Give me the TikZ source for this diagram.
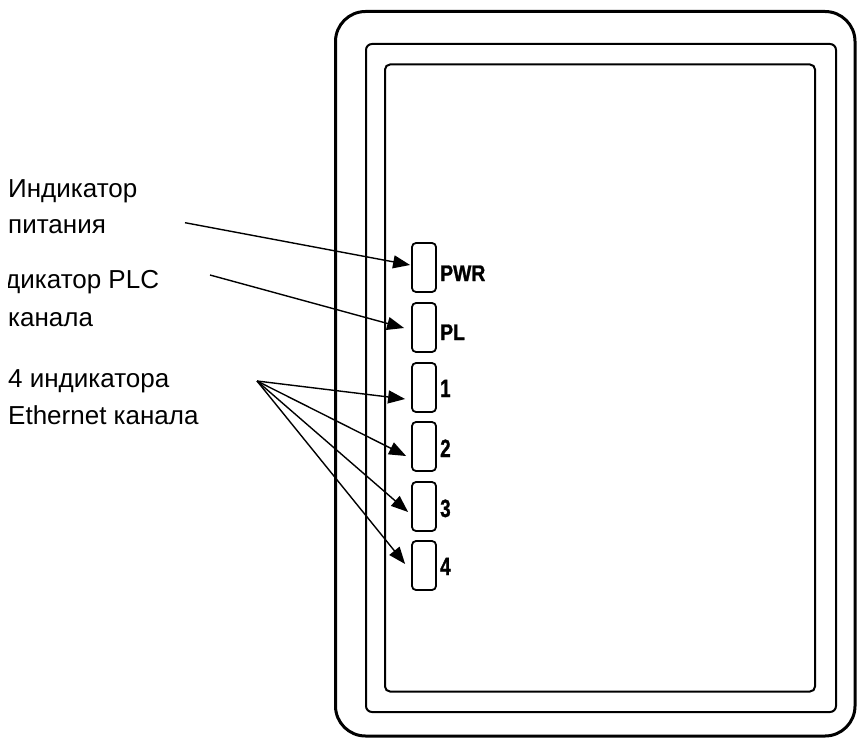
\documentclass[tikz,border=0pt]{standalone}
\usepackage{fontspec}
\usepackage{graphicx}
\setmainfont{Liberation Sans}
\newfontfamily\ledfont[BoldFeatures={FakeBold=1.3}]{Liberation Sans}
\usetikzlibrary{arrows.meta}
\newcommand{\condtext}[2]{\scalebox{#1}[1]{#2}}
\tikzset{
  ledbox/.style={draw, line width=1.8pt, rounded corners=4pt, minimum width=24pt, minimum height=49pt, inner sep=0pt},
  ledlab/.style={anchor=base west, inner sep=0pt, font=\fontsize{22.5}{22.5}\selectfont\ledfont\bfseries},
  numlab/.style={anchor=base west, inner sep=0pt, font=\fontsize{25}{25}\selectfont\ledfont\bfseries},
  desc/.style={anchor=base west, inner sep=0pt, font=\fontsize{26}{26}\selectfont},
  arr/.style={line width=1.4pt, -{Triangle[length=17pt,width=13pt]}},
}
\begin{document}
\begin{tikzpicture}[x=1pt,y=-1pt]
\useasboundingbox (0,0) rectangle (858,738);
% housing
\draw[line width=3pt, rounded corners=30pt] (335.5,11.5) rectangle (855,736);
\draw[line width=2pt, rounded corners=6pt] (366,44) rectangle (836,712);
\draw[line width=2pt, rounded corners=5pt] (385,64.5) rectangle (815,691.5);
% LEDs
\node[ledbox] (lpwr) at (424,267.5) {};
\node[ledbox] (lpl) at (424,327.5) {};
\node[ledbox] (l1) at (424,387.5) {};
\node[ledbox] (l2) at (424,446.5) {};
\node[ledbox] (l3) at (424,506.5) {};
\node[ledbox] (l4) at (424,565.5) {};
% LED labels
\node[ledlab] (tpwr) at (440,281) {\condtext{0.86}{PWR}};
\node[ledlab] (tpl) at (440,340) {\condtext{0.86}{PL}};
\node[numlab] (t1) at (440,397) {\condtext{0.75}{1}};
\node[numlab] (t2) at (440,457) {\condtext{0.75}{2}};
\node[numlab] (t3) at (440,517) {\condtext{0.75}{3}};
\node[numlab] (t4) at (440,575) {\condtext{0.75}{4}};
% descriptions
\node[desc] (d1a) at (8,197) {Индикатор};
\node[desc] (d1b) at (8,233) {питания};
\begin{scope}
\clip (8,250) rectangle (220,300);
\node[desc] (d2a) at (5,288) {дикатор PLC};
\end{scope}
\node[desc] (d2b) at (8,326) {канала};
\node[desc] (d3a) at (8,387) {4 индикатора};
\node[desc] (d3b) at (8,424) {Ethernet канала};
% arrow origins
\coordinate (spwr) at (185,222.7);
\coordinate (spl) at (210,275);
\coordinate (seth) at (257,381);
% arrows
\draw[arr] (spwr) -- ([xshift=-1pt,yshift=2.5pt]lpwr.west);
\draw[arr] (spl) -- ([xshift=-7pt,yshift=-0.5pt]lpl.west);
\draw[arr] (seth) -- ([xshift=-6pt,yshift=-11.5pt]l1.west);
\draw[arr] (seth) -- ([xshift=-5pt,yshift=-9.5pt]l2.west);
\draw[arr] (seth) -- ([xshift=-3pt,yshift=-5.5pt]l3.west);
\draw[arr] (seth) -- ([xshift=-6pt,yshift=1.5pt]l4.west);
\end{tikzpicture}
\end{document}
